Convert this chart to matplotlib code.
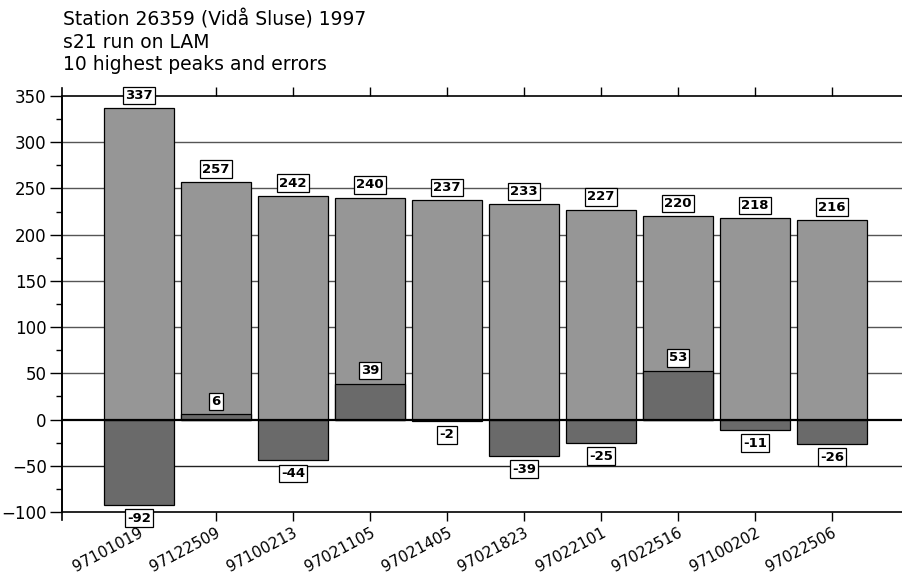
import matplotlib
matplotlib.use('Agg')
from matplotlib import pyplot as plt
from matplotlib.ticker import MultipleLocator

# data
dates = ['97101019', '97122509', '97100213', '97021105', '97021405',
         '97021823', '97022101', '97022516', '97100202', '97022506']
peaks = [337, 257, 242, 240, 237, 233, 227, 220, 218, 216]
errors = [-92, 6, -44, 39, -2, -39, -25, 53, -11, -26]

plt.rcParams['font.family'] = ['DejaVu Sans']

fig = plt.figure(figsize=(9.03, 5.78), dpi=100)
ax = fig.add_axes([62 / 903, 66 / 578, 847 / 903, 416 / 578])

x = list(range(len(dates)))
ax.bar(x, peaks, width=0.91, color='#969696', edgecolor='black', linewidth=0.9, zorder=2)
ax.bar(x, errors, width=0.91, color='#6a6a6a', edgecolor='black', linewidth=0.9, zorder=3)

box = dict(boxstyle='square,pad=0.17', fc='white', ec='black', lw=0.9)
for xi, p, e in zip(x, peaks, errors):
    ax.annotate(str(p), (xi, p), xytext=(0, 4.5), textcoords='offset points',
                ha='center', va='bottom', fontsize=9.5, fontweight='bold',
                bbox=box, zorder=5)
    if e >= 0:
        ax.annotate(str(e), (xi, e), xytext=(0, 4.5), textcoords='offset points',
                    ha='center', va='bottom', fontsize=9.5, fontweight='bold',
                    bbox=box, zorder=5)
    else:
        ax.annotate(str(e), (xi, e), xytext=(0, -5), textcoords='offset points',
                    ha='center', va='top', fontsize=9.5, fontweight='bold',
                    bbox=box, zorder=5)

ax.set_xlim(-1, 10)
ax.set_ylim(-100, 350)
ax.yaxis.set_major_locator(MultipleLocator(50))
ax.yaxis.set_minor_locator(MultipleLocator(25))
ax.set_xticks(x)
ax.set_xticklabels(dates, rotation=28, ha='right', rotation_mode='anchor', fontsize=11)
ax.tick_params(axis='y', which='major', length=9, width=1, labelsize=12, pad=2)
ax.tick_params(axis='y', which='minor', length=4, width=1)
ax.tick_params(axis='x', top=True, length=6.5, width=1, pad=3)

# grid lines and zero line
for yv in range(-50, 350, 50):
    if yv == 0:
        ax.axhline(0, color='black', lw=1.6, zorder=4)
    elif yv < 0:
        ax.axhline(yv, color='#222222', lw=1, zorder=1)
    else:
        ax.axhline(yv, color='#555555', lw=1, zorder=1)

ax.spines['right'].set_visible(False)
for s in ['left', 'top', 'bottom']:
    ax.spines[s].set_linewidth(1.2)
# left spine sticks out a little past top and bottom
ax.plot([0, 0], [-0.02, 1.02], transform=ax.transAxes, color='black',
        lw=1.2, clip_on=False)

title_lines = ['Station 26359 (Vidå Sluse) 1997', 's21 run on LAM',
               '10 highest peaks and errors']
for i, line in enumerate(title_lines):
    fig.text(63 / 903, 1 - (25 + 22.5 * i) / 578, line, fontsize=13.5, va='baseline')

fig.savefig('out.png', dpi=100)
